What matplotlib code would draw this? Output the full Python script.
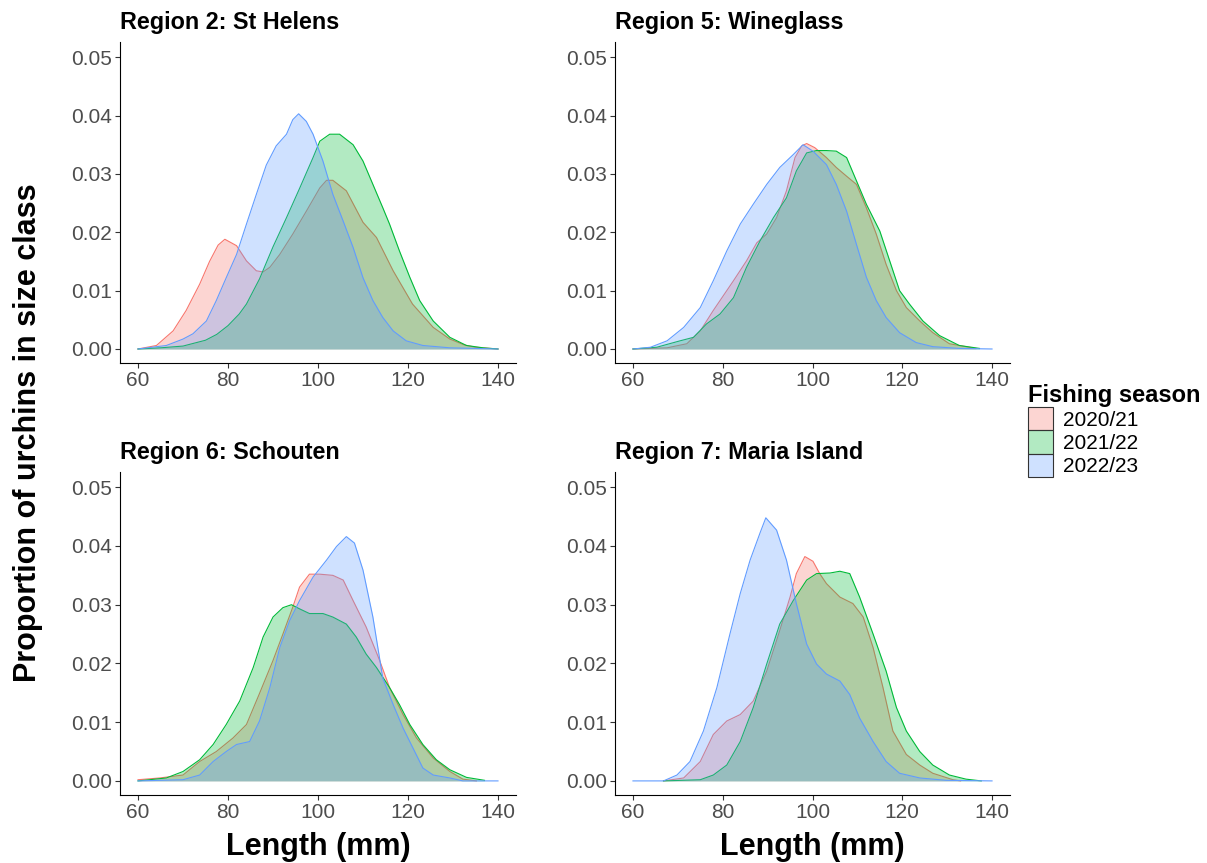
import matplotlib
matplotlib.use("Agg")
import matplotlib.pyplot as plt
from matplotlib.patches import Patch
import numpy as np

plt.rcParams['font.family'] = ['Liberation Sans', 'DejaVu Sans']

seasons = ['2020/21', '2021/22', '2022/23']
season_cols = ['#F8766D', '#00BA38', '#619CFF']
regions = ['Region 2: St Helens', 'Region 5: Wineglass',
           'Region 6: Schouten', 'Region 7: Maria Island']

# density curves: length (mm) and proportion in percent
# Region 2: St Helens
sth_2021_len = [60, 64.1, 67.8, 70.7, 73.7, 75.9, 77.8, 79.3, 81.9, 84.1, 86.3, 87.8, 89.3, 91.5, 94.4,
                97.4, 100.4, 101.9, 103.3, 106.3, 110, 113, 116.7, 121, 125.6, 129.3, 132.5, 135, 140]
sth_2021_pct = [0, 0.06, 0.31, 0.66, 1.11, 1.5, 1.78, 1.88, 1.77, 1.51, 1.34, 1.32, 1.40, 1.62, 1.97,
                2.36, 2.76, 2.89, 2.89, 2.71, 2.17, 1.91, 1.34, 0.77, 0.37, 0.17, 0.07, 0.03, 0]
sth_2122_len = [60, 65, 70, 75, 77.5, 80, 82.5, 84.1, 87, 90, 93, 95.9, 98.9, 100.4, 102.6, 104.8,
                107.8, 110, 112.2, 114.4, 115.9, 118.1, 120.4, 122.6, 125.6, 129.3, 133, 136.7, 140]
sth_2122_pct = [0, 0.02, 0.05, 0.15, 0.25, 0.4, 0.6, 0.77, 1.2, 1.75, 2.25, 2.75, 3.28, 3.56, 3.68, 3.68,
                3.5, 3.22, 2.82, 2.42, 2.14, 1.68, 1.23, 0.83, 0.48, 0.2, 0.06, 0.02, 0]
sth_2223_len = [60, 66.3, 70, 72.2, 75.2, 77.4, 79.6, 81.9, 84.1, 86.3, 88.5, 90.7, 93, 94.4, 95.7,
                97.4, 98.9, 101.1, 103.3, 105.6, 107.8, 110, 112.2, 114.4, 116.7, 119.6, 123.3, 129.3, 140]
sth_2223_pct = [0, 0.06, 0.17, 0.26, 0.48, 0.83, 1.22, 1.62, 2.14, 2.65, 3.15, 3.48, 3.68, 3.93, 4.03,
                3.9, 3.68, 3.22, 2.65, 2.19, 1.74, 1.22, 0.83, 0.54, 0.31, 0.14, 0.06, 0.02, 0]

# Region 5: Wineglass
wg_2021_len = [60, 67.6, 72, 75, 77.9, 82.4, 85.3, 87.6, 89.8, 92, 94.2, 96.1, 97.6, 98.7, 100.5, 103.1,
               105.3, 107.6, 109.8, 112, 114.2, 116.4, 118.7, 120.9, 123.9, 126.8, 130.5, 136.4]
wg_2021_pct = [0, 0.02, 0.09, 0.31, 0.66, 1.17, 1.51, 1.82, 1.97, 2.25, 2.71, 3.28, 3.48, 3.52, 3.45, 3.28,
               3.11, 2.96, 2.82, 2.42, 1.97, 1.45, 1.0, 0.71, 0.48, 0.28, 0.09, 0.01]
wg_2122_len = [60, 65.3, 70.5, 73.5, 76.4, 79.4, 82.4, 85.3, 88.3, 91.3, 94.2, 96.4, 98.7, 100.9, 103.1,
               105.3, 107.6, 109.8, 112, 115, 117.2, 119.4, 121.6, 124.6, 128.3, 132.7, 137.2]
wg_2122_pct = [0, 0.03, 0.14, 0.2, 0.43, 0.6, 0.88, 1.4, 1.85, 2.25, 2.59, 3.05, 3.36, 3.4, 3.4,
               3.39, 3.28, 2.88, 2.48, 2.02, 1.51, 1.0, 0.77, 0.48, 0.23, 0.06, 0.01]
wg_2223_len = [60, 63.9, 67.6, 71.3, 75, 77.9, 80.9, 83.9, 86.8, 89.8, 92.7, 95.7, 97.9, 100.1, 103.1,
               105.3, 107.6, 109.8, 112, 114.2, 116.4, 119.4, 123.1, 126.8, 132.7, 140]
wg_2223_pct = [0, 0.03, 0.14, 0.37, 0.71, 1.17, 1.68, 2.14, 2.48, 2.82, 3.11, 3.33, 3.5, 3.39, 3.16,
               2.82, 2.36, 1.79, 1.23, 0.83, 0.54, 0.28, 0.11, 0.04, 0.01, 0]

# Region 6: Schouten
sc_2021_len = [60, 64.8, 70, 73.7, 77.4, 81.1, 84.1, 86.9, 90, 92.2, 94.4, 95.9, 98.1, 100.4, 103.3,
               105.6, 107.8, 110.7, 113.7, 115.9, 118.9, 121.9, 125.6, 129.3, 132.2, 135.2]
sc_2021_pct = [0.02, 0.05, 0.1, 0.33, 0.5, 0.73, 0.96, 1.47, 2.05, 2.5, 2.96, 3.3, 3.52, 3.52, 3.5,
               3.42, 3.07, 2.62, 2.05, 1.59, 1.13, 0.73, 0.39, 0.16, 0.03, 0]
sc_2122_len = [60, 66.3, 70, 73.7, 76.7, 79.6, 82.6, 85.6, 87.8, 90, 92.2, 94.1, 95.9, 98.1, 101.1,
               103.3, 106.3, 108.5, 110.7, 113, 115.9, 118.1, 120.4, 123.3, 126.3, 129.3, 133, 137]
sc_2122_pct = [0, 0.05, 0.16, 0.36, 0.62, 0.96, 1.36, 1.93, 2.45, 2.79, 2.95, 3.0, 2.93, 2.85, 2.85,
               2.79, 2.67, 2.45, 2.16, 1.93, 1.59, 1.3, 0.96, 0.62, 0.36, 0.19, 0.06, 0.01]
sc_2223_len = [60, 70, 73.7, 76.7, 79.6, 81.9, 84.8, 87, 89.3, 91.5, 93.7, 95.9, 98.9, 101.9, 104.1,
               106.3, 108.1, 110, 112.2, 114.4, 116.7, 118.9, 121.1, 123.3, 125.6, 129.3, 132.2, 140]
sc_2223_pct = [0, 0.02, 0.1, 0.33, 0.5, 0.62, 0.67, 1.02, 1.59, 2.27, 2.73, 3.07, 3.47, 3.76, 3.99,
               4.16, 4.05, 3.59, 2.79, 1.75, 1.3, 0.9, 0.56, 0.22, 0.1, 0.05, 0, 0]

# Region 7: Maria Island
mi_2021_len = [66.8, 71.3, 75, 77.9, 80.9, 83.9, 86.8, 89.8, 92.7, 95, 96.4, 98.3, 100.1, 101.6, 103.1,
               106.1, 109, 111.3, 113.5, 115.7, 117.9, 120.9, 123.9, 126.8, 131.3, 133]
mi_2021_pct = [0, 0.05, 0.33, 0.79, 1.02, 1.13, 1.36, 1.87, 2.56, 3.13, 3.53, 3.82, 3.74, 3.53, 3.36,
               3.13, 3.02, 2.79, 2.27, 1.59, 0.85, 0.45, 0.27, 0.13, 0.02, 0]
mi_2122_len = [66.8, 75, 77.9, 80.9, 83.9, 86.8, 89.8, 92.7, 95.7, 98.7, 100.9, 103.9, 106.1, 108.3,
               110.5, 113.5, 116.4, 118.7, 120.9, 123.9, 126.8, 130.5, 134.2, 137.6]
mi_2122_pct = [0, 0.02, 0.1, 0.27, 0.67, 1.25, 1.99, 2.67, 3.07, 3.42, 3.53, 3.54, 3.57, 3.53,
               3.13, 2.5, 1.87, 1.25, 0.85, 0.5, 0.27, 0.1, 0.03, 0]
mi_2223_len = [60, 66.8, 69.8, 72.7, 75.7, 78.7, 81.6, 83.9, 86.1, 88.3, 89.6, 92, 94.2, 96.4, 98.7,
               100.9, 103.1, 106.1, 108.3, 110.5, 113.5, 116.4, 119.4, 123.9, 129.8, 140]
mi_2223_pct = [0, 0, 0.1, 0.33, 0.85, 1.59, 2.5, 3.19, 3.76, 4.22, 4.48, 4.27, 3.76, 3.02, 2.33,
               1.99, 1.82, 1.7, 1.47, 1.07, 0.67, 0.33, 0.13, 0.05, 0.01, 0]

curves = [
    [(sth_2021_len, sth_2021_pct), (sth_2122_len, sth_2122_pct), (sth_2223_len, sth_2223_pct)],
    [(wg_2021_len, wg_2021_pct), (wg_2122_len, wg_2122_pct), (wg_2223_len, wg_2223_pct)],
    [(sc_2021_len, sc_2021_pct), (sc_2122_len, sc_2122_pct), (sc_2223_len, sc_2223_pct)],
    [(mi_2021_len, mi_2021_pct), (mi_2122_len, mi_2122_pct), (mi_2223_len, mi_2223_pct)],
]

W, H = 1207, 863
fig = plt.figure(figsize=(W / 100, H / 100), dpi=100)

# axes boxes in pixels: left, top, right, bottom
boxes = [(120, 42, 516, 363), (615, 42, 1010, 363),
         (120, 472, 516, 795), (615, 472, 1010, 795)]

for i, (l, t, r, b) in enumerate(boxes):
    ax = fig.add_axes([l / W, 1 - b / H, (r - l) / W, (b - t) / H])
    for j in range(3):
        x = np.array(curves[i][j][0])
        y = np.array(curves[i][j][1]) / 100
        ax.fill_between(x, 0, y, color=season_cols[j], alpha=0.3, linewidth=0, zorder=2 + 2 * j)
        ax.plot(x, y, color=season_cols[j], lw=0.8, zorder=3 + 2 * j)
    ax.set_xlim(56, 144)
    ax.set_ylim(-0.0024, 0.0526)
    ax.set_xticks([60, 80, 100, 120, 140])
    ax.set_yticks([0, 0.01, 0.02, 0.03, 0.04, 0.05])
    ax.set_yticklabels(['%.2f' % v for v in ax.get_yticks()])
    for s in ['top', 'right']:
        ax.spines[s].set_visible(False)
    for s in ['left', 'bottom']:
        ax.spines[s].set_linewidth(0.8)
        ax.spines[s].set_color('black')
    ax.tick_params(length=3.5, width=0.8, color='#333333', labelsize=15,
                   labelcolor='#4D4D4D', pad=2.5)
    ax.annotate(regions[i], xy=(0, 1), xycoords='axes fraction', xytext=(0, 9.5),
                textcoords='offset points', ha='left', va='baseline',
                fontsize=16.8, fontweight='bold')
    if i >= 2:
        fig.text((l + r) / 2 / W, 1 - 855 / H, 'Length (mm)', ha='center', va='baseline',
                 fontsize=22, fontweight='bold')

fig.text(28 / W, 1 - 433 / H, 'Proportion of urchins in size class', rotation=90,
         ha='center', va='center', fontsize=22, fontweight='bold')

handles = [Patch(facecolor=matplotlib.colors.to_rgba(c, 0.3), edgecolor='#333333', linewidth=0.8)
           for c in season_cols]
leg = fig.legend(handles, seasons, loc='upper left', bbox_to_anchor=(1028 / W, 1 - 384 / H),
                 frameon=False, fontsize=15, title='Fishing season',
                 title_fontproperties={'weight': 'bold', 'size': 17},
                 handlelength=1.2, handleheight=1.35, handletextpad=0.5,
                 labelspacing=0.0, borderpad=0, borderaxespad=0, alignment='left')

fig.savefig('out.png', dpi=100, facecolor='white')
